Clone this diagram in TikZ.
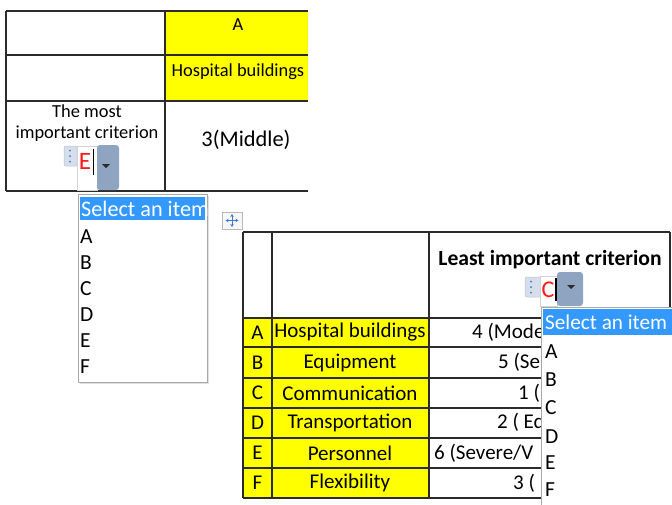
\documentclass[tikz,border=0pt]{standalone}
\usepackage{fontspec}
\setmainfont{Carlito}
\usetikzlibrary{arrows.meta}
\definecolor{cellyellow}{HTML}{FFFF00}
\definecolor{gridline}{HTML}{2B2B2B}
\definecolor{selblue}{HTML}{3399FF}
\definecolor{btnblue}{HTML}{8FA4C0}
\definecolor{tagbg}{HTML}{D5DEEA}
\definecolor{tagdot}{HTML}{3C78D8}
\definecolor{ctlred}{HTML}{FF1A1A}
\definecolor{listedge}{HTML}{A8A8A8}

\begin{document}
\begin{tikzpicture}[x=1pt,y=-1pt,
  grid/.style={draw=gridline,line width=1.3pt},
  txt/.style={inner sep=0pt,text=black},
  small/.style={txt,font=\fontsize{18.4}{21}\selectfont},
  mid/.style={txt,font=\fontsize{21}{24}\selectfont},
  big/.style={txt,font=\fontsize{22.4}{26}\selectfont},
  item/.style={txt,anchor=west,font=\fontsize{21.5}{24}\selectfont},
  selhead/.style={inner sep=0pt,anchor=west,text=white,font=\fontsize{22.2}{26}\selectfont},
  tagbox/.style={fill=tagbg,draw=tagbg!70!gray,line width=0.5pt,rounded corners=2pt},
  tagdots/.style={fill=tagdot},
  entry/.style={fill=white,draw=gray!35,line width=0.5pt},
  button/.style={fill=btnblue,rounded corners=3pt},
  pick/.style={inner sep=0pt,text=ctlred},
  listbox/.style={fill=white,draw=listedge,line width=0.8pt}]

\useasboundingbox (0,0) rectangle (672,504);
\clip (0,0) rectangle (672,504);

% ---------- upper table ----------
\fill[cellyellow] (165,11) rectangle (308,101);
\foreach \yy in {11,55,101,191} \draw[grid] (6,\yy) -- (308,\yy);
\draw[grid] (6,11) -- (6,191);
\draw[grid] (165,11) -- (165,191);

\node[small] (hA) at (238,25) {A};
\node[small] (hHosp) at (238,72) {Hospital buildings};
\node[small,align=center] (most) at (87,123) {The most\\important criterion};
\node[big] (middle) at (246,140) {3(Middle)};

% content control in the upper table
\draw[tagbox] (64,146) rectangle (77,166);
\foreach \yy in {150.5,156,161.5} \fill[tagdots] (70,\yy) circle (1);
\draw[entry] (77,146) rectangle (97,190);
\node[pick,font=\fontsize{25}{28}\selectfont] (selE) at (85,161) {E};
\draw[line width=1.6pt] (93.5,149) -- (93.5,175);
\path[button] (97,190) -- (97,145) -- (119,145) -- (119,190) -- cycle;
\fill[gridline] (102,164) -- (110,164) -- (106,168) -- cycle;

% drop-down list of the upper control
\fill[black!12] (80,196) rectangle (209,384);
\draw[listbox] (78,194) rectangle (207,382);
\fill[selblue] (80,197) rectangle (205,220);
\node[selhead] (sel1) at (81,209) {Select an item};
\foreach \lab/\yy in {A/237,B/263,C/289,D/315,E/341,F/367}
  \node[item] (l1\lab) at (80,\yy) {\lab};

% ---------- lower table ----------
% move handle
\draw[draw=gray!55,fill=gray!6,line width=0.6pt] (222,212) rectangle (242,229);
\draw[tagdot,line width=1pt,{Stealth[length=3pt,width=3.5pt]}-{Stealth[length=3pt,width=3.5pt]}] (225.5,220.5) -- (238.5,220.5);
\draw[tagdot,line width=1pt,{Stealth[length=3pt,width=3.5pt]}-{Stealth[length=3pt,width=3.5pt]}] (232,214) -- (232,227);

\fill[cellyellow] (243,318) rectangle (429,498);
\foreach \yy in {232,318,347,378,408,438,468,498} \draw[grid] (243,\yy) -- (670,\yy);
\foreach \xx in {243,272,429,670} \draw[grid] (\xx,232) -- (\xx,498);

\node[mid,font=\bfseries\fontsize{21.6}{24}\selectfont] (least) at (550,260) {Least important criterion};

\foreach \lab/\name/\val/\vx/\yy in {
    A/Hospital buildings/{4 (Mode}/472/332.5,
    B/Equipment/{5 (Se}/498/362.5,
    C/Communication/{1 (}/518/393,
    D/Transportation/{2 ( Eq}/497/423,
    E/Personnel/{6 (Severe/V}/434/453,
    F/Flexibility/{3 (}/513/483} {
  \node[mid] (r\lab) at (257.5,\yy) {\lab};
  \node[mid] (n\lab) at (350,\yy) {\name};
  \node[mid,anchor=west] (v\lab) at (\vx,\yy) {\val};
}

% content control in the header cell
\draw[tagbox] (525,277) rectangle (541,297);
\foreach \yy in {281.5,287,292.5} \fill[tagdots] (531,\yy) circle (1);
\draw[entry] (540,276) rectangle (557,306);
\node[pick,font=\fontsize{24}{27}\selectfont] (selC) at (548,290) {C};
\draw[line width=1.6pt] (556,278) -- (556,301);
\path[button] (557,306) -- (557,272) -- (583,272) -- (583,306) -- cycle;
\fill[gridline] (567,285) -- (575,285) -- (571,289) -- cycle;

% drop-down list of the lower control
\draw[listbox] (541,307) rectangle (690,520);
\fill[selblue] (543,309) rectangle (672,335);
\node[selhead,font=\fontsize{21.2}{25}\selectfont] (sel2) at (545,322) {Select an item};
\foreach \lab/\yy in {A/352,B/380,C/408,D/437,E/463,F/490}
  \node[item] (l2\lab) at (545,\yy) {\lab};

\end{tikzpicture}
\end{document}
